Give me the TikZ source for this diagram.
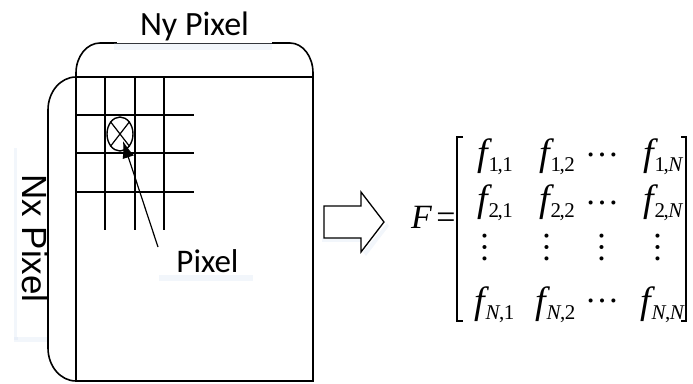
\documentclass[tikz,border=0pt]{standalone}
\usepackage{fontspec}
\setmainfont{Liberation Serif}
\newfontfamily\labelfont{Carlito}
\newfontfamily\sidefont{Liberation Sans}
\usetikzlibrary{arrows.meta,shapes.geometric}
\definecolor{haze}{RGB}{205,218,238}

% matrix entry f_{a,b} with a tight subscript
\newcommand\fent[2]{\textit{f}\kern-3.5pt\raisebox{-6pt}{\fontsize{21}{21}\selectfont #1\kern-1.5pt,\kern-0.5pt#2}}
\newcommand\rowdots{…}
\newcommand\coldots{\rotatebox{90}{…}}

\tikzset{
  edge/.style={line width=1.6pt},
  gridline/.style={line width=1.4pt},
  labelbox/.style={fill=white, inner sep=0pt, outer sep=0pt},
  softshadow/.style={fill=haze, opacity=0.25, draw=none},
  entry/.style={anchor=base west, inner sep=0pt, font=\fontsize{38}{38}\selectfont},
  dotsnode/.style={inner sep=0pt, font=\fontsize{34}{34}\selectfont},
  pointer/.style={line width=1.2pt, -{Latex[length=17pt,width=12pt]}},
  bracket/.style={line width=1.2pt},
  bigarrow/.style={line width=1.3pt, fill=white, line join=miter}
}

\begin{document}
\begin{tikzpicture}[x=1pt,y=-1pt]
\useasboundingbox (0,0) rectangle (693,383);

% image frame with its two rounded extent braces
\draw[edge] (76,77) rectangle (313,381);
\draw[edge] (76,77) -- (76,73) .. controls (76,56.4) and (86.8,43) .. (100,43)
  -- (290,43) .. controls (302.7,43) and (313,56.4) .. (313,73) -- (313,77);
\draw[edge] (76,77) .. controls (60.5,77) and (48,91.8) .. (48,110)
  -- (48,348) .. controls (48,366.2) and (60.5,381) .. (76,381);

% pixel grid in the upper-left corner
\foreach \gx in {105,135,164} \draw[gridline] (\gx,77) -- (\gx,230);
\foreach \gy in {115,153,192} \draw[gridline] (76,\gy) -- (194,\gy);

% one pixel marked with a crossed circle
\node[draw, ellipse, line width=1.4pt, inner sep=0pt, minimum width=26pt, minimum height=34pt] (px) at (120,134) {};
\draw[line width=1.2pt] (px.north west) -- (px.south east);
\draw[line width=1.2pt] (px.north east) -- (px.south west);
\coordinate (tip) at (123,141);

% labels on white boxes
\fill[softshadow] (114,43) rectangle (272,50);
\node[labelbox, minimum width=155pt, text height=35pt, text depth=8pt,
      font=\labelfont\fontsize{34}{34}\selectfont] (ny) at (194.5,21.5) {Ny Pixel};

\fill[softshadow] (14,148) rectangle (18,340);
\fill[softshadow] (14,337) rectangle (47,342);
\node[labelbox, rotate=-90, minimum width=197pt, text height=25pt, text depth=5pt,
      font=\sidefont\fontsize{35}{35}\selectfont] (nx) at (32,238.5) {Nx Pixel};

\fill[softshadow] (159,275) rectangle (253,281);
\node[labelbox, minimum width=91pt, text height=25pt, text depth=3pt,
      font=\labelfont\fontsize{33}{33}\selectfont] (pix) at (207.5,261) {Pixel};

\draw[pointer] ([xshift=-4pt]pix.north west) -- (tip);

% hollow block arrow
\fill[softshadow] (363,252) -- (387,223) -- (389,226) -- (366,256) -- cycle;
\fill[softshadow] (322,238) rectangle (361,242);
\draw[bigarrow] (324,206) -- (361,206) -- (361,192) -- (384,222)
  -- (361,252) -- (361,238) -- (324,238) -- cycle;

% the matrix F
\node[entry, font=\fontsize{34}{34}\selectfont] (feq) at (411,228) {\textit{F}\kern4pt=};
\draw[bracket] (463,137) -- (457,137) -- (457,321) -- (463,321);
\draw[bracket] (681,137) -- (686,137) -- (686,321) -- (681,321);

\node[entry] (f11) at (477,165.5) {\fent{1}{1}};
\node[entry] (f12) at (539,165.5) {\fent{1}{2}};
\node[dotsnode] (d13) at (602,155) {\rowdots};
\node[entry] (f1n) at (643,165.5) {\fent{1}{\textit{N}}};

\node[entry] (f21) at (477,211.5) {\fent{2}{1}};
\node[entry] (f22) at (539,211.5) {\fent{2}{2}};
\node[dotsnode] (d23) at (602,203) {\rowdots};
\node[entry] (f2n) at (643,211.5) {\fent{2}{\textit{N}}};

\node[dotsnode] (v1) at (485,247) {\coldots};
\node[dotsnode] (v2) at (547,247) {\coldots};
\node[dotsnode] (v3) at (602,247) {\coldots};
\node[dotsnode] (v4) at (658,247) {\coldots};

\node[entry] (fn1) at (474,313.5) {\fent{\textit{N}}{1}};
\node[entry] (fn2) at (535,313.5) {\fent{\textit{N}}{2}};
\node[dotsnode] (dn3) at (602,301) {\rowdots};
\node[entry] (fnn) at (640,313.5) {\fent{\textit{N}}{\textit{N}}};
\end{tikzpicture}
\end{document}
